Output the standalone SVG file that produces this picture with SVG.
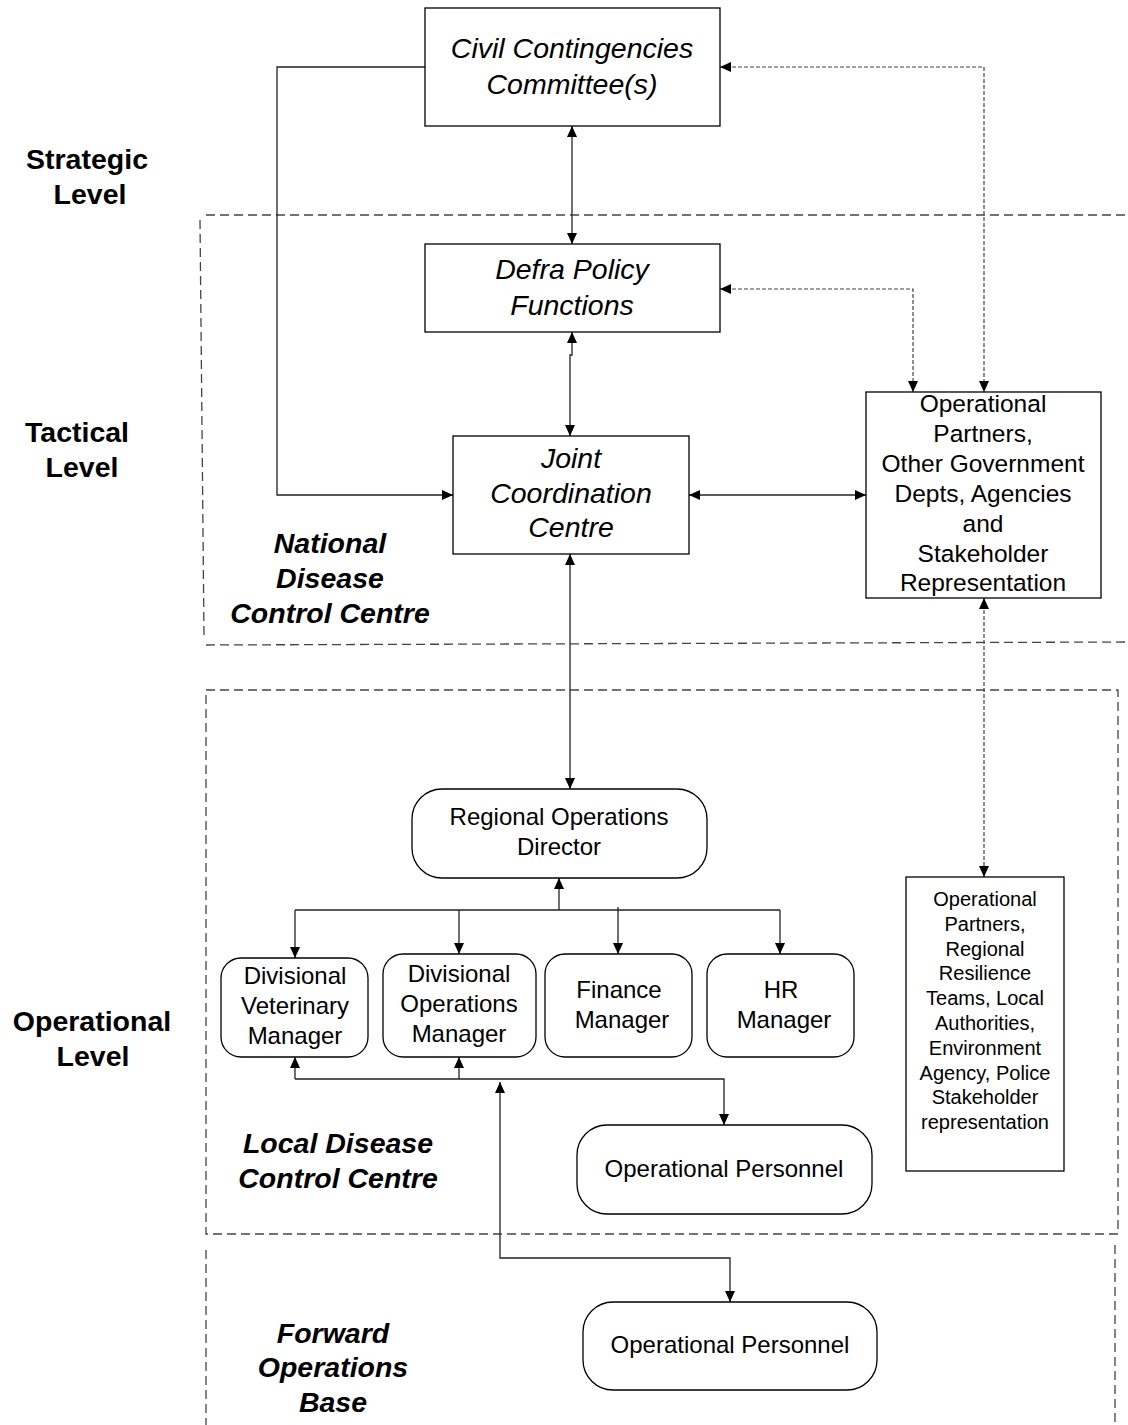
<svg xmlns="http://www.w3.org/2000/svg" width="1128" height="1425" viewBox="0 0 1128 1425">
<defs>
<marker id="ah" markerUnits="userSpaceOnUse" markerWidth="12" markerHeight="11" refX="11" refY="5.5" orient="auto-start-reverse" viewBox="0 0 12 11">
<path d="M0,0.5 L11,5.5 L0,10.5 z" fill="#000"/>
</marker>
<style>
.box{fill:#fff;stroke:#000;stroke-width:1.3}
.c{fill:none;stroke:#222;stroke-width:1.3}
.d{fill:none;stroke:#444;stroke-width:1.2;stroke-dasharray:4 2}
.zone{fill:none;stroke:#444;stroke-width:1.3;stroke-dasharray:9 5}
text{font-family:"Liberation Sans",Arial,sans-serif;fill:#000;text-anchor:middle}
.it{font-style:italic;font-size:28.5px}
.lvl{font-weight:bold;font-size:28.5px}
.zl{font-weight:bold;font-style:italic;font-size:28.5px}
.n24{font-size:24px}
.n25{font-size:24.5px}
.n20{font-size:20px}
</style>
</defs>
<rect width="1128" height="1425" fill="#fff"/>

<g id="zones">
<path class="zone" d="M206,215 H1128"/>
<path class="zone" d="M200,220 L204,636"/>
<path class="zone" d="M206,645 L1128,642"/>
<path class="zone" d="M206,690 H1118 V1234 H206 Z"/>
<path class="zone" d="M206,1250 V1425"/>
<path class="zone" d="M1115,1245 V1425"/>
</g>

<g id="labels">
<text class="lvl" x="87" y="169">Strategic</text>
<text class="lvl" x="90" y="204">Level</text>
<text class="lvl" x="77" y="442">Tactical</text>
<text class="lvl" x="82" y="477">Level</text>
<text class="lvl" x="92" y="1031">Operational</text>
<text class="lvl" x="93" y="1066">Level</text>
<text class="zl" x="330" y="553">National</text>
<text class="zl" x="330" y="588">Disease</text>
<text class="zl" x="330" y="623">Control Centre</text>
<text class="zl" x="338" y="1153">Local Disease</text>
<text class="zl" x="338" y="1188">Control Centre</text>
<text class="zl" x="333" y="1343">Forward</text>
<text class="zl" x="333" y="1377">Operations</text>
<text class="zl" x="333" y="1412">Base</text>
</g>

<g id="connectors">
<path class="c" d="M425,67 H277 V495 H453" marker-end="url(#ah)"/>
<path class="c" d="M572,126 V244" marker-start="url(#ah)" marker-end="url(#ah)"/>
<path class="c" d="M572,332 V355 H570 V436" marker-start="url(#ah)" marker-end="url(#ah)"/>
<path class="c" d="M689,495 H866" marker-start="url(#ah)" marker-end="url(#ah)"/>
<path class="c" d="M570,554 V789" marker-start="url(#ah)" marker-end="url(#ah)"/>
<path class="d" d="M720,67 H984 V392" marker-start="url(#ah)" marker-end="url(#ah)"/>
<path class="d" d="M720,289 H913 V392" marker-start="url(#ah)" marker-end="url(#ah)"/>
<path class="d" d="M984,598 V877" marker-start="url(#ah)" marker-end="url(#ah)"/>
<path class="c" d="M559,910 V878" marker-end="url(#ah)"/>
<path class="c" d="M295,910 H780"/>
<path class="c" d="M295,910 V958" marker-end="url(#ah)"/>
<path class="c" d="M459,910 V954" marker-end="url(#ah)"/>
<path class="c" d="M618,907 V954" marker-end="url(#ah)"/>
<path class="c" d="M780,910 V954" marker-end="url(#ah)"/>
<path class="c" d="M295,1079 V1057" marker-end="url(#ah)"/>
<path class="c" d="M459,1079 V1057" marker-end="url(#ah)"/>
<path class="c" d="M295,1079 H724 V1125" marker-end="url(#ah)"/>
<path class="c" d="M500,1082 V1258 H730 V1302" marker-start="url(#ah)" marker-end="url(#ah)"/>
</g>

<g id="civil">
<rect class="box" x="425" y="8" width="295" height="118"/>
<text class="it" x="572" y="58">Civil Contingencies</text>
<text class="it" x="572" y="94">Committee(s)</text>
</g>

<g id="defra">
<rect class="box" x="425" y="244" width="295" height="88"/>
<text class="it" x="572" y="279">Defra Policy</text>
<text class="it" x="572" y="315">Functions</text>
</g>

<g id="jcc">
<rect class="box" x="453" y="436" width="236" height="118"/>
<text class="it" x="571" y="468">Joint</text>
<text class="it" x="571" y="503">Coordination</text>
<text class="it" x="571" y="537">Centre</text>
</g>

<g id="oppartners">
<rect class="box" x="866" y="392" width="235" height="206"/>
<text class="n25" x="983" y="412">Operational</text>
<text class="n25" x="983" y="442">Partners,</text>
<text class="n25" x="983" y="472">Other Government</text>
<text class="n25" x="983" y="502">Depts, Agencies</text>
<text class="n25" x="983" y="532">and</text>
<text class="n25" x="983" y="562">Stakeholder</text>
<text class="n25" x="983" y="591">Representation</text>
</g>

<g id="rod">
<rect class="box" x="412" y="789" width="295" height="89" rx="30" ry="30"/>
<text class="n24" x="559" y="825">Regional Operations</text>
<text class="n24" x="559" y="855">Director</text>
</g>

<g id="dvm">
<rect class="box" x="221" y="958" width="147" height="99" rx="20" ry="20"/>
<text class="n24" x="295" y="984">Divisional</text>
<text class="n24" x="295" y="1014">Veterinary</text>
<text class="n24" x="295" y="1044">Manager</text>
</g>

<g id="dom">
<rect class="box" x="383" y="954" width="153" height="103" rx="20" ry="20"/>
<text class="n24" x="459" y="982">Divisional</text>
<text class="n24" x="459" y="1012">Operations</text>
<text class="n24" x="459" y="1042">Manager</text>
</g>

<g id="finance">
<rect class="box" x="545" y="954" width="147" height="103" rx="20" ry="20"/>
<text class="n24" x="619" y="998">Finance</text>
<text class="n24" x="622" y="1028">Manager</text>
</g>

<g id="hr">
<rect class="box" x="707" y="954" width="147" height="103" rx="20" ry="20"/>
<text class="n24" x="781" y="998">HR</text>
<text class="n24" x="784" y="1028">Manager</text>
</g>

<g id="localpartners">
<rect class="box" x="906" y="877" width="158" height="294"/>
<text class="n20" x="985" y="906">Operational</text>
<text class="n20" x="985" y="931">Partners,</text>
<text class="n20" x="985" y="956">Regional</text>
<text class="n20" x="985" y="980">Resilience</text>
<text class="n20" x="985" y="1005">Teams, Local</text>
<text class="n20" x="985" y="1030">Authorities,</text>
<text class="n20" x="985" y="1055">Environment</text>
<text class="n20" x="985" y="1080">Agency, Police</text>
<text class="n20" x="985" y="1104">Stakeholder</text>
<text class="n20" x="985" y="1129">representation</text>
</g>

<g id="oppersonnel1">
<rect class="box" x="577" y="1125" width="295" height="89" rx="30" ry="30"/>
<text class="n24" x="724" y="1177">Operational Personnel</text>
</g>

<g id="oppersonnel2">
<rect class="box" x="583" y="1302" width="294" height="88" rx="30" ry="30"/>
<text class="n24" x="730" y="1353">Operational Personnel</text>
</g>
</svg>
